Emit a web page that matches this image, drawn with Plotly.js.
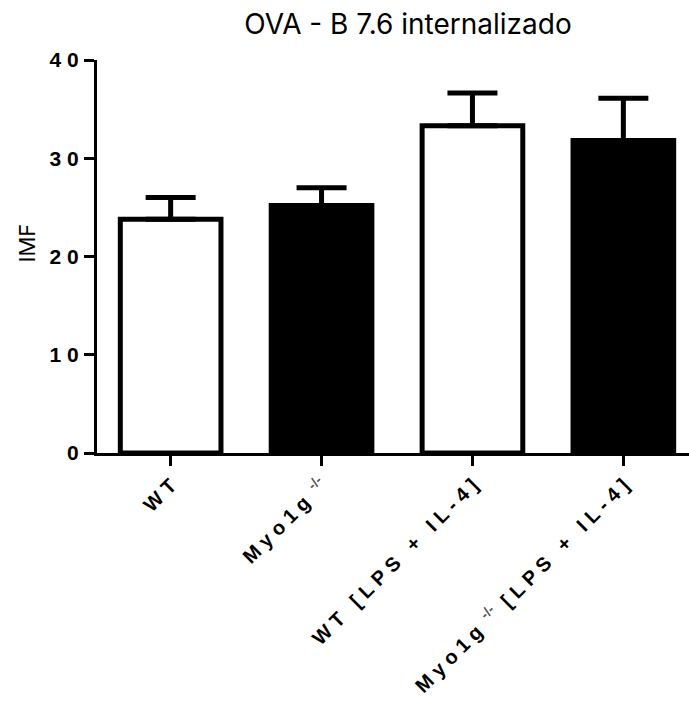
<!DOCTYPE html>
<html>
<head>
<meta charset="utf-8">
<script src="https://cdn.plot.ly/plotly-3.0.1.min.js"></script>
<style>html,body{margin:0;padding:0;background:#fff;}#chart{width:689px;height:701px;}</style>
</head>
<body>
<div id="chart"></div>
<script>
// ---- data ----
const categories = ["WT", "Myo1g<sup>-/-</sup>", "WT [LPS + IL-4]", "Myo1g<sup>-/-</sup> [LPS + IL-4]"];
const meanValues = [23.8, 25.2, 33.3, 31.8];
const errorUpper = [2.2, 1.8, 3.35, 4.3];
const barColors = ["white", "black", "white", "black"];
const yTickValues = [0, 10, 20, 30, 40];
const yTickLabels = ["0", "10", "20", "30", "40"];
const chartTitle = "OVA - B 7.6 internalizado";
const yTitle = "IMF";

// widen letter spacing like the original graphic
function spaceOut(s) {
  return s.split(/(<sup>.*?<\/sup>)/).map(function (p) {
    if (p.indexOf('<sup>') === 0) return '\u00a0\u00a0<span style="color:#555">' + p + '</span>';
    return p.split('').map(function (c) { return c === ' ' ? '\u00a0' : c; }).join('\u00a0');
  }).join('');
}

const trace = {
  type: 'bar',
  x: categories,
  y: meanValues,
  width: 0.667,
  marker: { color: barColors, line: { color: 'black', width: 5 } },
  error_y: {
    type: 'data', symmetric: false,
    array: errorUpper,
    arrayminus: errorUpper.map(function () { return 0; }),
    color: 'black', thickness: 5, width: 25
  },
  hoverinfo: 'none'
};

const layout = {
  width: 689, height: 701,
  margin: { l: 97, r: 0, t: 60, b: 248 },
  paper_bgcolor: 'white', plot_bgcolor: 'white',
  showlegend: false,
  title: {
    text: chartTitle,
    font: { family: 'Inter, Liberation Sans, Arial, sans-serif', size: 28, color: 'black' },
    x: 408 / 689, xref: 'container', xanchor: 'center',
    y: 1 - 24 / 701, yref: 'container', yanchor: 'middle'
  },
  xaxis: {
    type: 'category',
    range: [-0.488, 3.435],
    tickmode: 'array',
    tickvals: categories,
    ticktext: categories.map(spaceOut),
    tickangle: -45,
    tickfont: { family: 'Liberation Sans, Arial, sans-serif', size: 20, color: 'black', weight: 'bold' },
    showline: true, linecolor: 'black', linewidth: 3,
    ticks: 'outside', ticklen: 10, tickwidth: 3, tickcolor: 'black',
    showgrid: false, zeroline: false, fixedrange: true
  },
  yaxis: {
    range: [0, 40],
    tickmode: 'array',
    tickvals: yTickValues,
    ticktext: yTickLabels.map(spaceOut),
    tickfont: { family: 'Liberation Sans, Arial, sans-serif', size: 21, color: 'black', weight: 'bold' },
    ticklabelstandoff: 1,
    showline: true, linecolor: 'black', linewidth: 3,
    ticks: 'outside', ticklen: 10, tickwidth: 3, tickcolor: 'black',
    showgrid: false, zeroline: false, fixedrange: true
  },
  annotations: [{
    text: yTitle, textangle: -90,
    xref: 'paper', yref: 'paper', x: 0, xshift: -70, y: 0.533,
    xanchor: 'center', yanchor: 'middle', showarrow: false,
    font: { family: 'Inter, Liberation Sans, Arial, sans-serif', size: 22, color: 'black' }
  }]
};

Plotly.newPlot('chart', [trace], layout, { staticPlot: true, displayModeBar: false });
</script>
</body>
</html>
